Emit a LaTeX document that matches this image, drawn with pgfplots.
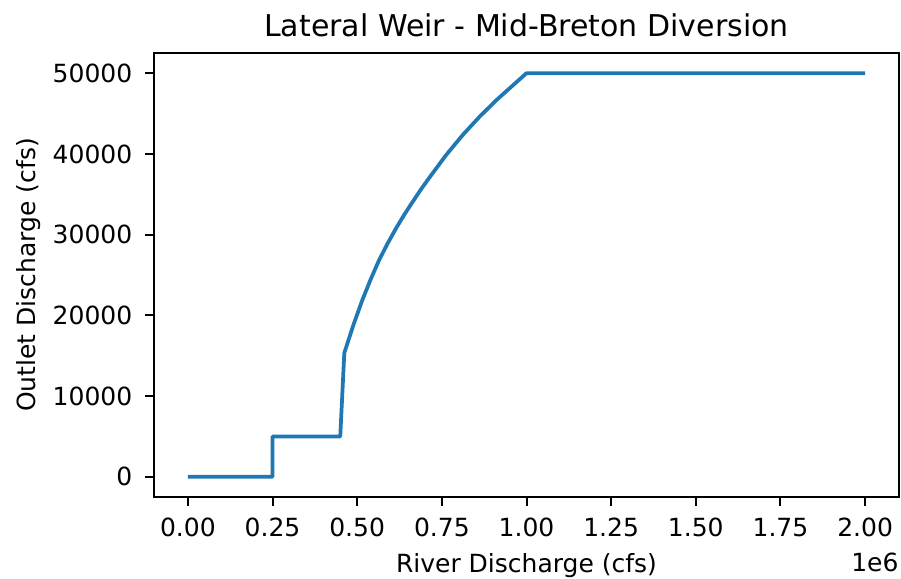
\documentclass[border=0pt]{standalone}
\usepackage{fontspec}
\setmainfont{DejaVu Sans}
\usepackage{pgfplots}
\pgfplotsset{compat=1.18}
\definecolor{mplblue}{HTML}{1F77B4}
\begin{document}
\begin{tikzpicture}
\begin{axis}[
  name=ax,
  scale only axis,
  width=298bp, height=177.6bp,
  xmin=-0.1, xmax=2.1, ymin=-2500, ymax=52500,
  axis line style={line width=0.8bp, black},
  tick style={line width=0.8bp, black},
  major tick length=3.5bp,
  tick align=outside,
  xtick pos=bottom, ytick pos=left,
  xtick={0,0.25,0.5,0.75,1,1.25,1.5,1.75,2},
  xticklabels={0.00,0.25,0.50,0.75,1.00,1.25,1.50,1.75,2.00},
  ytick={0,10000,20000,30000,40000,50000},
  yticklabels={0,10000,20000,30000,40000,50000},
  scaled x ticks=false, scaled y ticks=false,
  /pgf/number format/assume math mode=true,
  tick label style={font=\fontsize{10bp}{12bp}\selectfont, inner sep=0pt},
  xticklabel style={anchor=base, yshift=-12.4bp},
  yticklabel style={anchor=east, xshift=-5bp},
  every axis x label/.style={at={(axis description cs:0.5,0)}, anchor=base, yshift=-30.3bp, inner sep=0pt, font=\fontsize{10bp}{12bp}\selectfont},
  every axis y label/.style={at={(axis description cs:-0.1584,0.5)}, rotate=90, anchor=base, inner sep=0pt, font=\fontsize{10bp}{12bp}\selectfont},
  every axis title/.style={at={(axis description cs:0.5,1)}, anchor=base, yshift=6.6bp, inner sep=0pt, font=\fontsize{12bp}{14bp}\selectfont},
  title={Lateral Weir - Mid-Breton Diversion},
  xlabel={River Discharge (cfs)},
  ylabel={Outlet Discharge (cfs)},
]
\addplot[mplblue, line width=1.5bp, line join=round] coordinates {
  (0,0) (0.25,0) (0.25,5000) (0.45,5000) (0.462,15350) (0.4884,18750)
  (0.5148,21850) (0.5395,24430) (0.5642,26800) (0.5889,28830) (0.6136,30700)
  (0.638,32400) (0.6627,34000) (0.687,35530) (0.7121,37000) (0.7615,39800)
  (0.8107,42300) (0.8601,44550) (0.9095,46600) (0.9586,48450) (1.0,50000) (2.0,50000)
};
\end{axis}
\node[anchor=base east, inner sep=0pt, font=\fontsize{10bp}{12bp}\selectfont] at ([yshift=-29.6bp]ax.south east) {1e6};
\pgfresetboundingbox
\path ([xshift=-61.6bp, yshift=-32.8bp]ax.south west) rectangle ([xshift=0.8bp, yshift=21.2bp]ax.north east);
\end{tikzpicture}
\end{document}
